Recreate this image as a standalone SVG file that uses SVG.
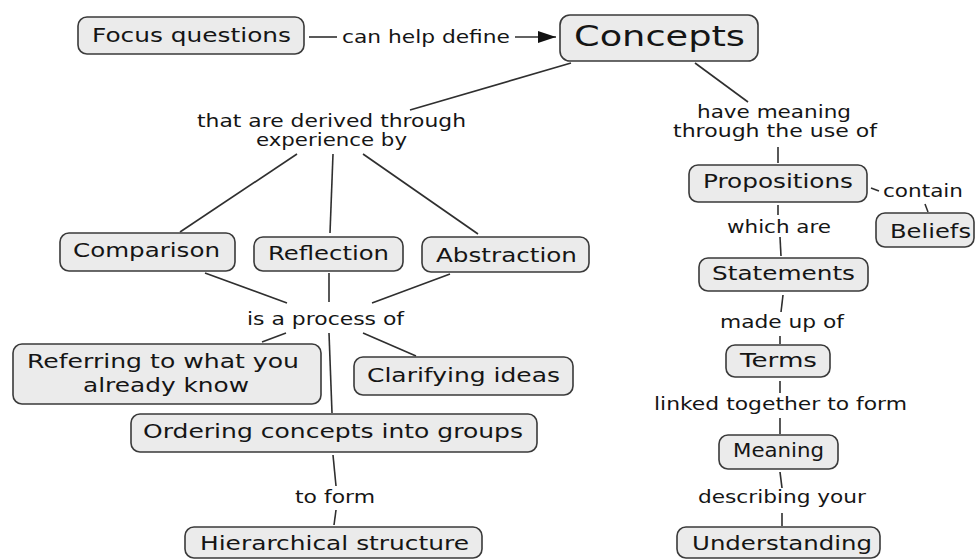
<svg xmlns="http://www.w3.org/2000/svg" width="976" height="559" viewBox="0 0 976 559">
<defs>
<style>
.box{fill:#ebebeb;stroke:#3a3a3a;stroke-width:1.6}
.t{font-family:"DejaVu Sans",Verdana,sans-serif;fill:#151515;font-size:19.5px}
.l{font-family:"DejaVu Sans",Verdana,sans-serif;fill:#151515;font-size:17px}
.c{stroke:#2f2f2f;stroke-width:1.6;fill:none}
</style>
<marker id="arr" viewBox="0 0 10 10" refX="10" refY="5" markerWidth="18" markerHeight="12" markerUnits="userSpaceOnUse" orient="auto" preserveAspectRatio="none">
<path d="M0,0 L10,5 L0,10 z" fill="#111"/>
</marker>
</defs>
<rect width="976" height="559" fill="#fff"/>
<g id="connectors">
<line class="c" x1="309" y1="37" x2="337" y2="37"/>
<line class="c" x1="515" y1="37" x2="556" y2="37" marker-end="url(#arr)"/>
<line class="c" x1="571" y1="63" x2="410" y2="110"/>
<line class="c" x1="297" y1="154" x2="180" y2="232"/>
<line class="c" x1="333" y1="154" x2="330" y2="233"/>
<line class="c" x1="363" y1="154" x2="478" y2="234"/>
<line class="c" x1="205" y1="273" x2="287" y2="303"/>
<line class="c" x1="329" y1="273" x2="329" y2="302"/>
<line class="c" x1="450" y1="274" x2="372" y2="303"/>
<line class="c" x1="286" y1="333" x2="262" y2="342"/>
<line class="c" x1="329" y1="333" x2="332" y2="413"/>
<line class="c" x1="363" y1="333" x2="416" y2="356"/>
<line class="c" x1="333" y1="455" x2="336" y2="486"/>
<line class="c" x1="336" y1="510" x2="334" y2="525"/>
<line class="c" x1="695" y1="63" x2="748" y2="102"/>
<line class="c" x1="778" y1="147" x2="778" y2="163"/>
<line class="c" x1="871" y1="188" x2="879" y2="191"/>
<line class="c" x1="925" y1="204" x2="928" y2="212"/>
<line class="c" x1="778" y1="205" x2="778" y2="215"/>
<line class="c" x1="780" y1="237" x2="781" y2="256"/>
<line class="c" x1="783" y1="295" x2="781" y2="312"/>
<line class="c" x1="780" y1="336" x2="780" y2="344"/>
<line class="c" x1="780" y1="381" x2="780" y2="393"/>
<line class="c" x1="780" y1="418" x2="780" y2="434"/>
<line class="c" x1="780" y1="472" x2="782" y2="488"/>
<line class="c" x1="782" y1="513" x2="782" y2="526"/>
<text class="l" x="342" y="43" textLength="168" lengthAdjust="spacingAndGlyphs">can help define</text>
<text class="l" x="197" y="127" textLength="269" lengthAdjust="spacingAndGlyphs">that are derived through</text>
<text class="l" x="256" y="146" textLength="151" lengthAdjust="spacingAndGlyphs">experience by</text>
<text class="l" x="247" y="325" textLength="157" lengthAdjust="spacingAndGlyphs">is a process of</text>
<text class="l" x="295" y="503" textLength="80" lengthAdjust="spacingAndGlyphs">to form</text>
<text class="l" x="697" y="118" textLength="154" lengthAdjust="spacingAndGlyphs">have meaning</text>
<text class="l" x="673" y="137" textLength="204" lengthAdjust="spacingAndGlyphs">through the use of</text>
<text class="l" x="883" y="197" textLength="80" lengthAdjust="spacingAndGlyphs">contain</text>
<text class="l" x="727" y="233" textLength="104" lengthAdjust="spacingAndGlyphs">which are</text>
<text class="l" x="720" y="328" textLength="124" lengthAdjust="spacingAndGlyphs">made up of</text>
<text class="l" x="654" y="410" textLength="253" lengthAdjust="spacingAndGlyphs">linked together to form</text>
<text class="l" x="698" y="503" textLength="168" lengthAdjust="spacingAndGlyphs">describing your</text>
</g>
<g id="focus"><rect class="box" x="78" y="17" width="226" height="37" rx="9"/><text class="t" x="92" y="42" textLength="199" lengthAdjust="spacingAndGlyphs">Focus questions</text></g>
<g id="concepts"><rect class="box" x="560" y="15" width="198" height="46" rx="10"/><text class="t" x="574" y="46" style="font-size:29px" textLength="171" lengthAdjust="spacingAndGlyphs">Concepts</text></g>
<g id="comparison"><rect class="box" x="60" y="233" width="175" height="38" rx="9"/><text class="t" x="73" y="257" textLength="147" lengthAdjust="spacingAndGlyphs">Comparison</text></g>
<g id="reflection"><rect class="box" x="254" y="237" width="149" height="34" rx="9"/><text class="t" x="268" y="260" textLength="121" lengthAdjust="spacingAndGlyphs">Reflection</text></g>
<g id="abstraction"><rect class="box" x="422" y="237" width="167" height="35" rx="9"/><text class="t" x="436" y="262" textLength="141" lengthAdjust="spacingAndGlyphs">Abstraction</text></g>
<g id="referring"><rect class="box" x="13" y="344" width="308" height="60" rx="9"/><text class="t" x="27" y="368" textLength="272" lengthAdjust="spacingAndGlyphs">Referring to what you</text><text class="t" x="83" y="392" textLength="166" lengthAdjust="spacingAndGlyphs">already know</text></g>
<g id="clarifying"><rect class="box" x="354" y="357" width="219" height="38" rx="9"/><text class="t" x="367" y="382" textLength="193" lengthAdjust="spacingAndGlyphs">Clarifying ideas</text></g>
<g id="ordering"><rect class="box" x="131" y="414" width="406" height="38" rx="9"/><text class="t" x="143" y="438" textLength="380" lengthAdjust="spacingAndGlyphs">Ordering concepts into groups</text></g>
<g id="hierarchical"><rect class="box" x="185" y="527" width="297" height="31" rx="9"/><text class="t" x="200" y="550" textLength="269" lengthAdjust="spacingAndGlyphs">Hierarchical structure</text></g>
<g id="propositions"><rect class="box" x="689" y="165" width="178" height="37" rx="9"/><text class="t" x="703" y="188" textLength="150" lengthAdjust="spacingAndGlyphs">Propositions</text></g>
<g id="beliefs"><rect class="box" x="876" y="213" width="98" height="34" rx="9"/><text class="t" x="890" y="238" textLength="81" lengthAdjust="spacingAndGlyphs">Beliefs</text></g>
<g id="statements"><rect class="box" x="699" y="258" width="169" height="33" rx="9"/><text class="t" x="712" y="280" textLength="143" lengthAdjust="spacingAndGlyphs">Statements</text></g>
<g id="terms"><rect class="box" x="726" y="345" width="104" height="32" rx="9"/><text class="t" x="740" y="367" textLength="77" lengthAdjust="spacingAndGlyphs">Terms</text></g>
<g id="meaning"><rect class="box" x="719" y="435" width="119" height="34" rx="9"/><text class="t" x="733" y="457" textLength="91" lengthAdjust="spacingAndGlyphs">Meaning</text></g>
<g id="understanding"><rect class="box" x="677" y="527" width="203" height="31" rx="9"/><text class="t" x="692" y="550" textLength="180" lengthAdjust="spacingAndGlyphs">Understanding</text></g>
</svg>
